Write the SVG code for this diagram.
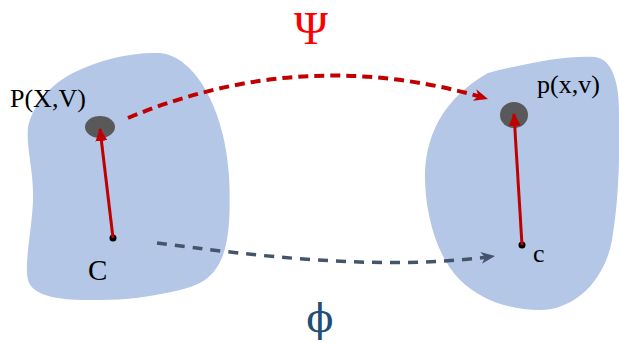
<svg xmlns="http://www.w3.org/2000/svg" width="619" height="343" viewBox="0 0 619 343">
<style>
.blob{fill:#b4c7e7;stroke:none}
.pt{fill:#595959}
.dot{fill:#000}
.lbl{font-family:"Liberation Serif","Times New Roman",serif;font-size:26px;fill:#000}
.red{stroke:#c00000;fill:none}
.gray{stroke:#44546a;fill:none}
</style>
<defs>
<marker id="ahRed" markerUnits="userSpaceOnUse" markerWidth="16" markerHeight="14" refX="14" refY="6" orient="auto">
<path d="M0,0 L14,6 L0,12 L4,6 Z" fill="#c00000"/>
</marker>
<marker id="ahGray" markerUnits="userSpaceOnUse" markerWidth="16" markerHeight="14" refX="14" refY="6" orient="auto">
<path d="M0,0 L14,6 L0,12 L4,6 Z" fill="#44546a"/>
</marker>
<marker id="ahSolid" markerUnits="userSpaceOnUse" markerWidth="14" markerHeight="14" refX="12" refY="6" orient="auto">
<path d="M0,0 L13,6 L0,12 Z" fill="#c00000"/>
</marker>
</defs>
<g id="domain-left">
<path class="blob" d="M28,127 C33,105 50,84 75,72 C100,60 130,52 160,53 C195,56 225,110 229,175 C231,215 229,245 220,262 C212,278 200,285 180,290 C150,297 125,300 100,300 C55,301 32,295 28,280 C24,262 32,230 33,200 C34,170 26,150 28,127 Z"/>
<ellipse class="pt" cx="100" cy="127" rx="15" ry="11"/>
<circle class="dot" cx="113" cy="238" r="3.5"/>
<text class="lbl" x="10" y="107">P(X,V)</text>
<text class="lbl" x="88" y="280" style="font-size:29px">C</text>
</g>
<g id="domain-right">
<path class="blob" d="M488,73 C530,62 570,55 595,57 C613,59 619,85 619,110 C620,150 619,200 612,240 C605,280 575,310 540,310 C510,310 480,300 460,280 C435,255 425,210 425,177 C425,140 440,100 488,73 Z"/>
<ellipse class="pt" cx="514" cy="115" rx="14" ry="13"/>
<circle class="dot" cx="522" cy="245" r="3.5"/>
<text class="lbl" x="537" y="93">p(x,v)</text>
<text class="lbl" x="533" y="262">c</text>
</g>
<g id="labels">
<text x="311" y="44" text-anchor="middle" style="font-family:'Liberation Serif','Times New Roman',serif;font-size:46px;fill:#ff0000">Ψ</text>
<text x="320" y="332" text-anchor="middle" style="font-family:'DejaVu Serif','Liberation Serif',serif;font-size:40px;fill:#1f4e79">ϕ</text>
</g>
<g id="connectors">
<line class="red" x1="113" y1="238" x2="100" y2="129" stroke-width="3" marker-end="url(#ahSolid)"/>
<line class="red" x1="522" y1="245" x2="514" y2="114" stroke-width="3" marker-end="url(#ahSolid)"/>
<path class="red" d="M128,118 Q305,44 488,99" stroke-width="4" stroke-dasharray="10,6" marker-end="url(#ahRed)"/>
<path class="gray" d="M157,243 C250,255 380,272 495,256" stroke-width="3.5" stroke-dasharray="10,8" marker-end="url(#ahGray)"/>
</g>
</svg>
